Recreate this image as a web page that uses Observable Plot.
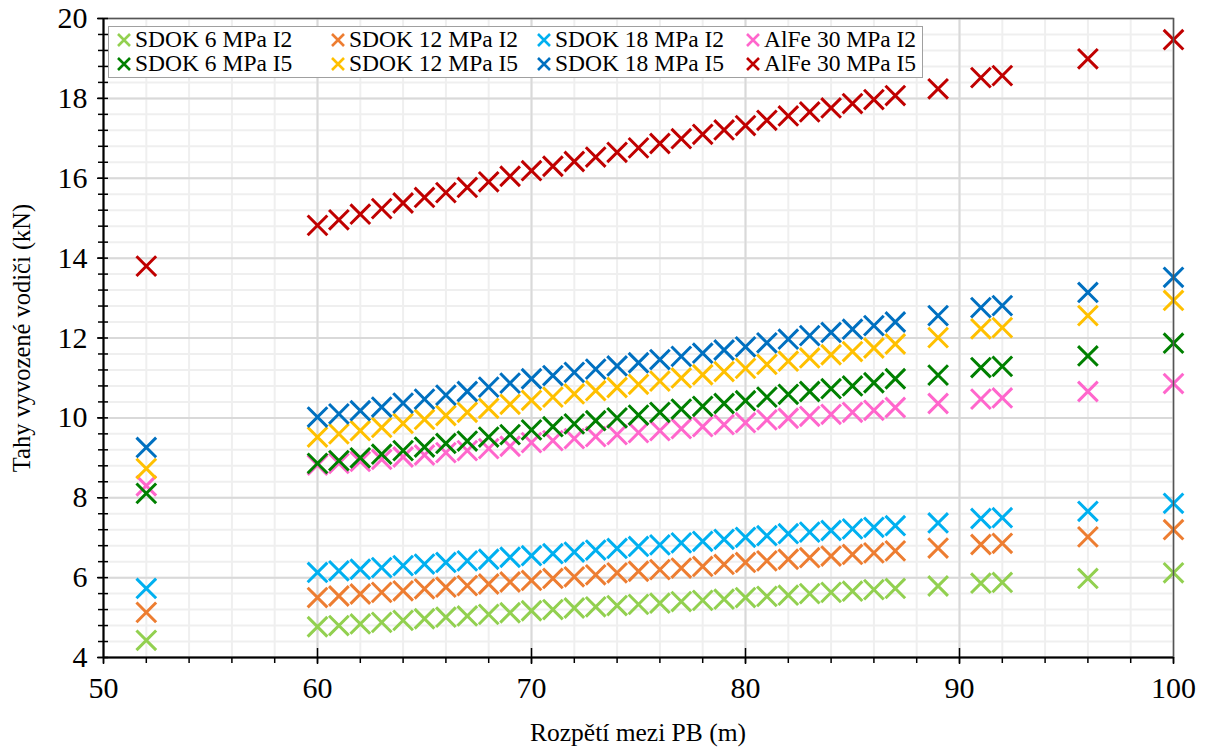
<!DOCTYPE html>
<html><head><meta charset="utf-8">
<script src="https://cdn.jsdelivr.net/npm/d3@7"></script>
<script src="https://cdn.jsdelivr.net/npm/@observablehq/plot@0.6"></script>
<style>
body{margin:0;background:#fff;}
#wrap{position:relative;width:1209px;height:749px;font-family:"Liberation Serif",Tinos,"Times New Roman",Times,"DejaVu Serif",serif;color:#000;}
#legend{position:absolute;left:108px;top:26px;width:815px;height:52px;border:1.5px solid #a0a0a0;background:#fff;box-sizing:border-box;display:grid;grid-template-columns:214px 206px 209px 183px;grid-template-rows:24px 24px;padding-top:1px;}
.item{display:flex;align-items:center;font-size:23.5px;white-space:nowrap;line-height:1;}
.item svg{margin-left:8px;margin-right:4px;flex:none;}
#ylab{position:absolute;left:22px;top:338px;transform:translate(-50%,-50%) rotate(-90deg);font-size:24.5px;white-space:nowrap;}
#xlab{position:absolute;left:638px;top:733px;transform:translate(-50%,-50%);font-size:25.5px;white-space:nowrap;}
</style></head>
<body>
<div id="wrap"><div id="chart"></div><div id="legend"></div>
<div id="ylab">Tahy vyvozené vodiči (kN)</div>
<div id="xlab">Rozpětí mezi PB (m)</div></div>
<script>
const spans = [52,60,61,62,63,64,65,66,67,68,69,70,71,72,73,74,75,76,77,78,79,80,81,82,83,84,85,86,87,89,91,92,96,100];
const sdok6I2  = [4.43,4.77,4.80,4.84,4.88,4.93,4.97,5.01,5.04,5.08,5.12,5.17,5.20,5.24,5.27,5.30,5.33,5.36,5.40,5.43,5.46,5.50,5.53,5.56,5.60,5.63,5.66,5.70,5.73,5.79,5.86,5.88,5.98,6.12];
const sdok12I2 = [5.13,5.50,5.54,5.59,5.63,5.67,5.72,5.76,5.80,5.84,5.89,5.93,5.98,6.02,6.07,6.12,6.16,6.20,6.24,6.28,6.33,6.38,6.42,6.46,6.50,6.54,6.58,6.62,6.67,6.74,6.83,6.86,7.02,7.20];
const sdok18I2 = [5.73,6.13,6.17,6.21,6.25,6.30,6.34,6.38,6.42,6.46,6.51,6.55,6.60,6.64,6.69,6.73,6.78,6.82,6.87,6.91,6.96,7.01,7.05,7.10,7.14,7.18,7.22,7.26,7.30,7.37,7.48,7.50,7.66,7.86];
const alfeI2   = [8.30,8.82,8.86,8.91,8.96,9.02,9.07,9.13,9.18,9.23,9.29,9.38,9.43,9.48,9.53,9.58,9.63,9.68,9.73,9.78,9.83,9.88,9.95,9.99,10.04,10.09,10.14,10.19,10.26,10.36,10.47,10.50,10.66,10.86];
const sdok6I5  = [8.11,8.86,8.93,9.00,9.09,9.18,9.27,9.36,9.42,9.52,9.58,9.70,9.78,9.85,9.93,10.00,10.07,10.14,10.22,10.29,10.36,10.43,10.52,10.59,10.66,10.73,10.80,10.88,10.98,11.07,11.26,11.29,11.55,11.87];
const sdok12I5 = [8.73,9.52,9.60,9.68,9.76,9.86,9.96,10.06,10.14,10.24,10.34,10.44,10.52,10.60,10.68,10.76,10.84,10.92,11.00,11.08,11.16,11.24,11.34,11.42,11.50,11.58,11.66,11.75,11.85,12.01,12.23,12.26,12.56,12.94];
const sdok18I5 = [9.26,10.02,10.10,10.18,10.27,10.37,10.47,10.57,10.66,10.77,10.87,10.98,11.06,11.14,11.22,11.30,11.38,11.46,11.54,11.62,11.70,11.78,11.88,11.97,12.06,12.14,12.22,12.31,12.40,12.56,12.76,12.81,13.14,13.52];
const alfeI5   = [13.80,14.82,14.96,15.10,15.24,15.38,15.52,15.64,15.77,15.91,16.05,16.19,16.30,16.42,16.53,16.65,16.76,16.87,16.99,17.10,17.21,17.32,17.45,17.56,17.66,17.76,17.87,17.97,18.07,18.24,18.52,18.57,18.99,19.47];

const seriesNames = ["SDOK 6 MPa I2","SDOK 12 MPa I2","SDOK 18 MPa I2","AlFe 30 MPa I2","SDOK 6 MPa I5","SDOK 12 MPa I5","SDOK 18 MPa I5","AlFe 30 MPa I5"];
const seriesColors = ["#92d050","#ed7d31","#00b0f0","#ff66cc","#008000","#ffc000","#0070c0","#c00000"];
const seriesValues = [sdok6I2,sdok12I2,sdok18I2,alfeI2,sdok6I5,sdok12I5,sdok18I5,alfeI5];
const xTicks = [50,60,70,80,90,100];
const yTicks = [4,6,8,10,12,14,16,18,20];

const rows = seriesValues.flatMap((vals,i)=>vals.map((v,j)=>({span:spans[j],value:v,series:seriesNames[i]})));
const xMinor = d3.range(50,100.001,2);
const yMinor = d3.range(0,41).map(i=>4+i*0.4);
const xInner = xTicks.slice(1,-1);
const blank = () => "";
const serifFamily = '"Liberation Serif", Tinos, "Times New Roman", Times, "DejaVu Serif", serif';

const chart = Plot.plot({
  width:1209, height:749,
  marginLeft:103, marginRight:36, marginTop:18, marginBottom:92,
  style:{fontFamily:serifFamily, fontSize:"30px", color:"#000", background:"white", overflow:"visible"},
  x:{domain:[50,100]},
  y:{domain:[4,20]},
  color:{domain:seriesNames, range:seriesColors},
  marks:[
    Plot.ruleY(yMinor,{stroke:"#efefef",strokeWidth:2}),
    Plot.ruleX(xMinor,{stroke:"#efefef",strokeWidth:2}),
    Plot.ruleY(yTicks,{stroke:"#d9d9d9",strokeWidth:2}),
    Plot.ruleX(xTicks,{stroke:"#d9d9d9",strokeWidth:2}),
    Plot.dot(rows,{x:"span",y:"value",stroke:"series",symbol:"times",r:9,strokeWidth:3}),
    Plot.frame({stroke:"#555",strokeWidth:1.5}),
    Plot.ruleX([50],{stroke:"#000",strokeWidth:2}),
    Plot.ruleY([4],{stroke:"#000",strokeWidth:2}),
    Plot.axisY(yMinor,{tickSize:5,tickFormat:blank,label:null,strokeWidth:1.5}),
    Plot.axisY(yMinor,{tickSize:-5,tickFormat:blank,label:null,strokeWidth:1.5}),
    Plot.axisY(yTicks,{tickSize:6,tickPadding:10,label:null,strokeWidth:1.5,fontSize:30,fontFamily:serifFamily}),
    Plot.axisX(xMinor,{tickSize:6,tickFormat:blank,label:null,strokeWidth:1.5}),
    Plot.axisX(xInner,{tickSize:-9,tickFormat:blank,label:null,strokeWidth:1.5}),
    Plot.axisX(xTicks,{tickSize:7,tickPadding:12,label:null,strokeWidth:1.5,fontSize:30,fontFamily:serifFamily})
  ]
});
document.getElementById("chart").appendChild(chart);

// legend: row 1 = I2 series, row 2 = I5 series
const legend = document.getElementById("legend");
seriesNames.forEach((name,i) => {
  const item = document.createElement("div");
  item.className = "item";
  item.innerHTML = `<svg width="14" height="14" viewBox="-7 -7 14 14"><path d="M-6,-6L6,6M-6,6L6,-6" stroke="${seriesColors[i]}" stroke-width="2.6"/></svg><span>${name}</span>`;
  legend.appendChild(item);
});
</script>
</body></html>
